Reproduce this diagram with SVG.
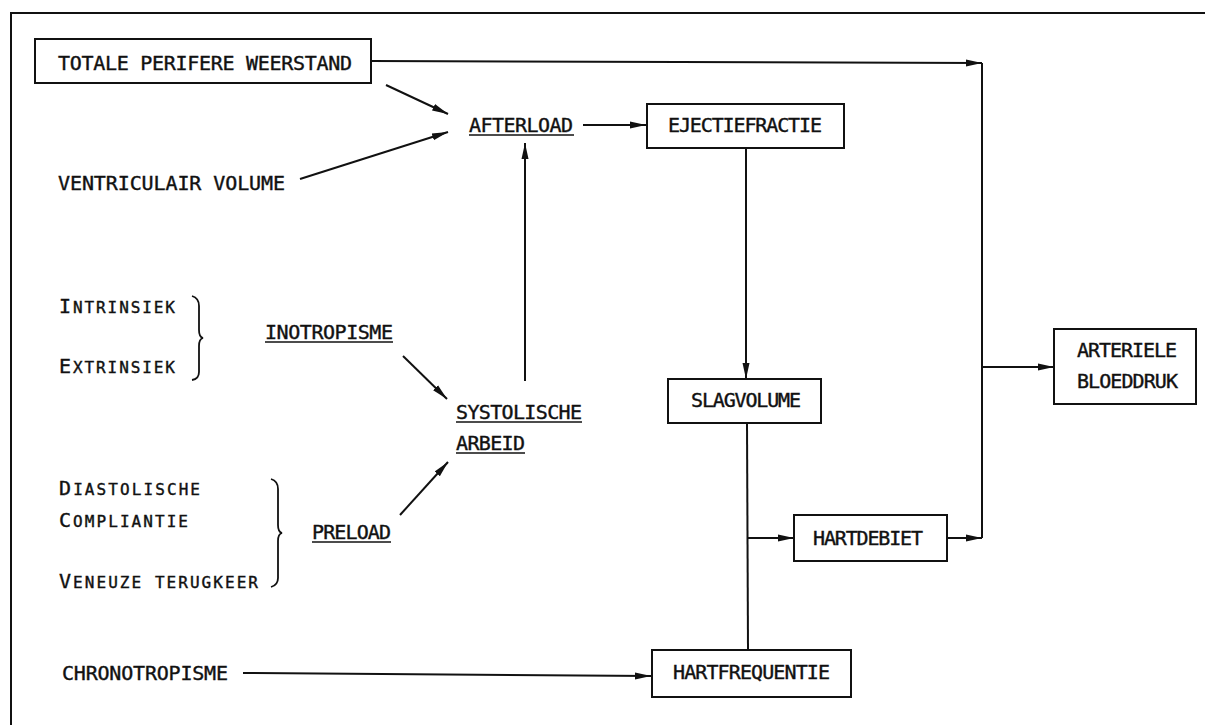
<svg xmlns="http://www.w3.org/2000/svg" width="1205" height="725" viewBox="0 0 1205 725">
<style>
.t{font-family:"DejaVu Sans Mono","Liberation Mono",monospace;font-size:20px;fill:#111;stroke:#111;stroke-width:0.4}
.s{font-size:16px}
.box{fill:none;stroke:#111;stroke-width:2}
.ln{fill:none;stroke:#111;stroke-width:2}
.ul{stroke:#111;stroke-width:1.6}
</style>
<defs>
<marker id="ah" markerUnits="userSpaceOnUse" markerWidth="18" markerHeight="10" refX="16" refY="5" orient="auto">
<path d="M0,1.5 L16,5 L0,8.5 Z" fill="#111"/>
</marker>
</defs>
<rect width="1205" height="725" fill="#fff"/>
<g id="frame">
<path class="ln" d="M11,725 L11,13 L1205,13"/>
</g>
<g id="connectors">
<path class="ln" d="M371,61 L982,63" marker-end="url(#ah)"/>
<path class="ln" d="M982,63 L982,538"/>
<path class="ln" d="M982,367 L1054,367" marker-end="url(#ah)"/>
<path class="ln" d="M947,538 L982,538" marker-end="url(#ah)"/>
<path class="ln" d="M386,85 L448,114" marker-end="url(#ah)"/>
<path class="ln" d="M300,179 L448,132" marker-end="url(#ah)"/>
<path class="ln" d="M583,125 L646,125" marker-end="url(#ah)"/>
<path class="ln" d="M746,148 L746,379" marker-end="url(#ah)"/>
<path class="ln" d="M525,381 L525,143" marker-end="url(#ah)"/>
<path class="ln" d="M403,356 L447,399" marker-end="url(#ah)"/>
<path class="ln" d="M400,515 L448,462" marker-end="url(#ah)"/>
<path class="ln" d="M747,423 L748,650"/>
<path class="ln" d="M747,538 L794,538" marker-end="url(#ah)"/>
<path class="ln" d="M243,673 L651,676" marker-end="url(#ah)"/>
</g>
<g id="tpw">
<rect class="box" x="35" y="39" width="336" height="44"/>
<text class="t" x="58" y="70" textLength="294">TOTALE PERIFERE WEERSTAND</text>
</g>
<g id="ventriculair">
<text class="t" x="58" y="190" textLength="227">VENTRICULAIR VOLUME</text>
</g>
<g id="afterload">
<text class="t" x="469" y="132" textLength="104">AFTERLOAD</text>
<line class="ul" x1="469" y1="135" x2="574" y2="135"/>
</g>
<g id="ejectiefractie">
<rect class="box" x="647" y="104" width="197" height="44"/>
<text class="t" x="668" y="132" textLength="154">EJECTIEFRACTIE</text>
</g>
<g id="intrinsiek">
<text class="t" x="59" y="313" textLength="116">I<tspan class="s">NTRINSIEK</tspan></text>
<text class="t" x="59" y="373" textLength="116">E<tspan class="s">XTRINSIEK</tspan></text>
<path class="ln" style="stroke-width:1.8" d="M192,296 Q199,298 199,306 L199,330 Q199,337 203,338 Q199,339 199,346 L199,372 Q199,379 192,380"/>
</g>
<g id="inotropisme">
<text class="t" x="265" y="339" textLength="128">INOTROPISME</text>
<line class="ul" x1="265" y1="342" x2="393" y2="342"/>
</g>
<g id="systolische">
<text class="t" x="456" y="419" textLength="126">SYSTOLISCHE</text>
<line class="ul" x1="456" y1="422" x2="582" y2="422"/>
<text class="t" x="456" y="450" textLength="69">ARBEID</text>
<line class="ul" x1="456" y1="453" x2="525" y2="453"/>
</g>
<g id="preload-sources">
<text class="t" x="59" y="495" textLength="141">D<tspan class="s">IASTOLISCHE</tspan></text>
<text class="t" x="59" y="527" textLength="129">C<tspan class="s">OMPLIANTIE</tspan></text>
<text class="t" x="59" y="588" textLength="199">V<tspan class="s">ENEUZE TERUGKEER</tspan></text>
<path class="ln" style="stroke-width:1.8" d="M271,479 Q278,481 278,489 L278,525 Q278,532 282,533 Q278,534 278,541 L278,578 Q278,585 271,587"/>
</g>
<g id="preload">
<text class="t" x="312" y="539" textLength="79">PRELOAD</text>
<line class="ul" x1="312" y1="542" x2="391" y2="542"/>
</g>
<g id="slagvolume">
<rect class="box" x="668" y="379" width="153" height="44"/>
<text class="t" x="691" y="407" textLength="110">SLAGVOLUME</text>
</g>
<g id="hartdebiet">
<rect class="box" x="794" y="515" width="153" height="46"/>
<text class="t" x="813" y="545" textLength="110">HARTDEBIET</text>
</g>
<g id="arteriele">
<rect class="box" x="1054" y="329" width="142" height="75"/>
<text class="t" x="1077" y="357" textLength="100">ARTERIELE</text>
<text class="t" x="1077" y="388" textLength="101">BLOEDDRUK</text>
</g>
<g id="chronotropisme">
<text class="t" x="62" y="680" textLength="166">CHRONOTROPISME</text>
</g>
<g id="hartfrequentie">
<rect class="box" x="652" y="650" width="199" height="47"/>
<text class="t" x="673" y="679" textLength="157">HARTFREQUENTIE</text>
</g>
</svg>
